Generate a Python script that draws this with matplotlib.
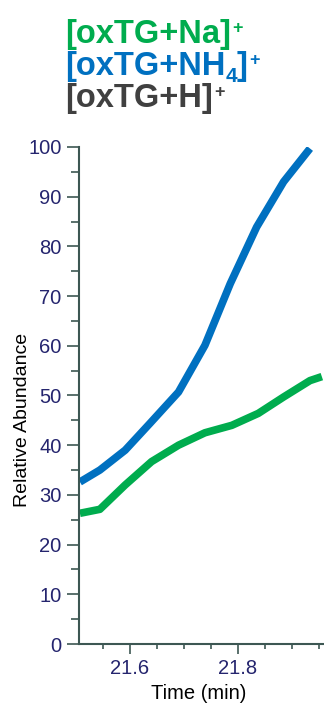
import matplotlib
matplotlib.use("Agg")
import matplotlib.pyplot as plt
from matplotlib.ticker import MultipleLocator

plt.rcParams["font.family"] = ["Liberation Sans", "DejaVu Sans"]

# data
time_nh4 = [21.507, 21.544, 21.591, 21.637, 21.690, 21.739, 21.786, 21.835, 21.885, 21.934]
abund_nh4 = [32.6, 35.0, 39.0, 44.4, 50.7, 60.1, 72.5, 83.9, 93.0, 99.7]
time_na = [21.507, 21.544, 21.591, 21.640, 21.690, 21.739, 21.789, 21.838, 21.885, 21.934, 21.956]
abund_na = [26.3, 27.1, 32.0, 36.7, 40.0, 42.5, 44.0, 46.4, 49.7, 53.0, 53.8]

green = "#00ac4e"
blue = "#0070c0"
grey = "#404040"
navy = "#25256e"
axcol = "#3d5753"

W, H = 324, 708
fig = plt.figure(figsize=(W / 100, H / 100), dpi=100)
ax = fig.add_axes([79 / W, 64 / H, 245 / W, 497 / H])

ax.plot(time_nh4, abund_nh4, color=blue, lw=5.5, solid_capstyle="butt")
ax.plot(time_na, abund_na, color=green, lw=5.5, solid_capstyle="butt")

ax.set_xlim(21.5053, 21.960)
ax.set_ylim(0, 100)
ax.spines[["top", "right"]].set_visible(False)
for s in ["left", "bottom"]:
    ax.spines[s].set_color(axcol)
    ax.spines[s].set_linewidth(1.5)

ax.yaxis.set_major_locator(MultipleLocator(10))
ax.yaxis.set_minor_locator(MultipleLocator(5))
ax.xaxis.set_major_locator(MultipleLocator(0.2))
ax.xaxis.set_minor_locator(MultipleLocator(0.05))
ax.tick_params(which="both", width=1.2, color=axcol, labelcolor=navy, labelsize=14.5)
ax.tick_params(axis="y", which="major", length=8.5, pad=4)
ax.tick_params(axis="y", which="minor", length=6)
ax.tick_params(axis="x", which="major", length=7.5, pad=3)
ax.tick_params(axis="x", which="minor", length=3.5)
ax.set_xticklabels([f"{v:.1f}" for v in ax.get_xticks()])

ax.set_ylabel("Relative Abundance", fontsize=14)
ax.yaxis.set_label_coords(-0.195, 0.45)
ax.set_xlabel("Time (min)", fontsize=14.5)
ax.xaxis.set_label_coords(0.49, -0.08)

# ion labels with super/subscripts placed piece by piece
renderer = fig.canvas.get_renderer()


def put(x, y, s, size, color):
    t = fig.text(x / W, 1 - y / H, s, fontsize=size, fontweight="bold",
                 color=color, va="baseline", ha="left")
    return t.get_window_extent(renderer).x1


x = put(65, 43, "[oxTG+Na]", 23.5, green)
put(x + 1, 32.5, "+", 13, green)

x = put(65, 75, "[oxTG+NH", 23.5, blue)
x = put(x, 82, "4", 15, blue)
x = put(x, 75, "]", 23.5, blue)
put(x + 1, 64.5, "+", 13, blue)

x = put(65, 107.5, "[oxTG+H]", 23.5, grey)
put(x + 1, 97, "+", 13, grey)

fig.savefig("out.png", dpi=100)
